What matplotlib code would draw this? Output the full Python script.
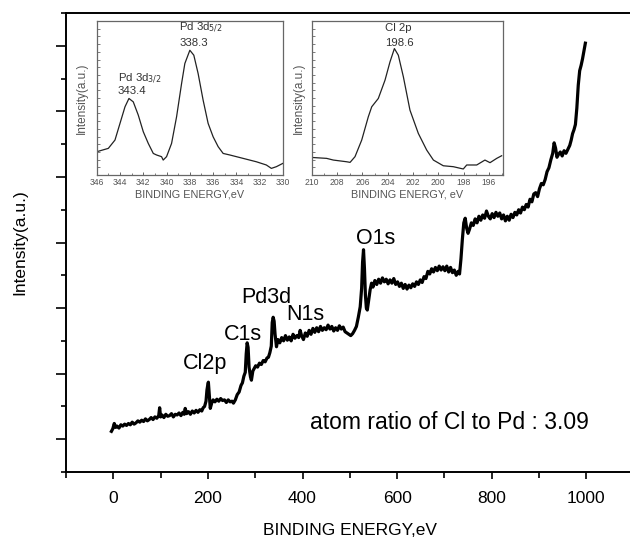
# XPS survey spectrum with Pd 3d and Cl 2p insets
import matplotlib
matplotlib.use("Agg")
import matplotlib.pyplot as plt
from matplotlib.ticker import MultipleLocator

plt.rcParams["font.family"] = ["Liberation Sans", "DejaVu Sans"]

# survey spectrum (binding energy, eV / intensity, a.u.)
survey_be = [
    -4, -1, 2, 5, 8, 12, 16, 20, 24, 28, 32, 36, 40, 44, 48, 52, 56, 60, 64, 68,
    72, 76, 80, 84, 88, 92, 96, 98, 100, 103, 107, 111, 115, 119, 123, 127, 131,
    135, 139, 143, 147, 150, 152, 155, 159, 163, 167, 171, 175, 179, 183, 187, 190,
    193, 196, 198, 200, 201, 203, 205, 208, 211, 215, 219, 223, 227, 231, 235,
    239, 243, 247, 251, 254,
    258, 262, 266, 270, 273, 276, 279, 281, 283, 285, 287, 290, 292, 295, 298,
    301, 305, 309, 313, 317, 321, 325, 328, 331,
    334, 336, 338, 340, 342, 345, 348, 352, 356, 360, 364, 368, 372, 376, 380,
    384, 388, 392, 395, 398, 402, 406, 410, 414, 418, 422, 426, 430, 434, 438,
    442, 446, 450, 454, 458, 462, 466, 470, 474, 478, 482, 486, 490, 494, 498,
    502, 506, 510, 514, 518,
    522, 525, 527, 529, 531, 533, 535, 537, 540, 543, 546, 549, 553, 557, 561,
    565, 569, 573, 577, 581, 585, 589, 593, 597, 601, 605, 609, 613, 617, 621,
    625, 629, 633, 637, 641, 645, 649, 653, 657, 661, 665, 669, 673, 677, 681,
    685, 689, 693, 697, 701, 705, 709, 713, 717, 721, 725, 729, 732,
    735, 738, 741, 744, 747, 750, 753, 757, 761, 765, 769, 773, 777, 781, 785,
    789, 793, 797, 801, 805, 809, 813, 817, 821, 825, 829, 833, 837, 841, 845,
    849, 853, 857, 861, 865, 869, 873, 877, 881, 885, 889, 893, 897, 901, 905,
    909, 913, 917, 921, 925, 929, 932, 935, 938, 941, 945, 949, 953, 957, 961,
    965, 968, 971, 974, 977, 980, 983, 986, 989, 992, 995, 998,
]
survey_int = [
    1.12, 1.16, 1.24, 1.18, 1.20, 1.17, 1.22, 1.20, 1.23, 1.21, 1.24, 1.22, 1.26,
    1.23, 1.25, 1.28, 1.26, 1.29, 1.27, 1.31, 1.28, 1.30, 1.33, 1.30, 1.34, 1.32,
    1.36, 1.48, 1.34, 1.37, 1.33, 1.38, 1.35, 1.36, 1.39, 1.34, 1.38, 1.37, 1.40,
    1.36, 1.41, 1.38, 1.47, 1.39, 1.42, 1.38, 1.43, 1.40, 1.44, 1.41, 1.45, 1.43,
    1.48,
    1.50, 1.58, 1.75, 1.84, 1.87, 1.66, 1.47, 1.55, 1.60, 1.57, 1.61, 1.58, 1.62,
    1.59, 1.60, 1.56, 1.60, 1.57, 1.58, 1.55,
    1.60, 1.68, 1.72, 1.82, 1.86, 1.96, 2.02, 2.30, 2.47, 2.40, 2.10, 1.95, 1.90,
    2.04, 2.08, 2.12, 2.10, 2.16, 2.14, 2.20, 2.18, 2.24, 2.25, 2.32,
    2.42, 2.78, 2.86, 2.80, 2.60, 2.41, 2.52, 2.47, 2.55, 2.50, 2.58, 2.51, 2.56,
    2.50, 2.60, 2.54, 2.58, 2.55, 2.66, 2.58, 2.52, 2.62, 2.57, 2.66, 2.60, 2.69,
    2.63, 2.70, 2.64, 2.72, 2.66, 2.70, 2.67, 2.74, 2.68, 2.72, 2.65, 2.70, 2.66,
    2.73, 2.68, 2.71, 2.64, 2.62, 2.60, 2.58, 2.61, 2.66, 2.72, 2.86,
    3.02, 3.30, 3.70, 3.89, 3.60, 3.20, 3.00, 2.97, 3.12, 3.28, 3.38, 3.32, 3.42,
    3.36, 3.44, 3.38, 3.46, 3.40, 3.44, 3.37, 3.43, 3.38, 3.45, 3.36, 3.40, 3.33,
    3.38, 3.30, 3.36, 3.29, 3.35, 3.31, 3.37, 3.33, 3.40, 3.36, 3.43, 3.39, 3.48,
    3.45, 3.56, 3.52, 3.60, 3.55, 3.62, 3.57, 3.64, 3.58, 3.63, 3.57, 3.64, 3.55,
    3.62, 3.54, 3.58, 3.50, 3.56, 3.52,
    3.75, 4.05, 4.30, 4.37, 4.22, 4.14, 4.20, 4.30, 4.26, 4.36, 4.30, 4.40, 4.34,
    4.42, 4.37, 4.48, 4.40, 4.36, 4.44, 4.38, 4.46, 4.40, 4.45, 4.36, 4.42, 4.33,
    4.40, 4.34, 4.43, 4.38, 4.46, 4.42, 4.50, 4.45, 4.54, 4.50, 4.58, 4.54, 4.66,
    4.62, 4.74, 4.76, 4.70, 4.82, 4.90, 4.88, 4.96, 5.08, 5.14, 5.26, 5.36, 5.52,
    5.44, 5.30, 5.34, 5.38, 5.32, 5.40, 5.36, 5.42, 5.48, 5.56, 5.66, 5.72, 5.80,
    6.05, 6.40, 6.62, 6.70, 6.80, 6.92, 7.04,
]

# peak labels on the survey
peak_names = ["Cl2p", "C1s", "Pd3d", "N1s", "O1s"]
peak_be = [193, 274, 323, 407, 555]
peak_y = [2.15, 2.59, 3.16, 2.90, 4.06]
ratio_text = "atom ratio of Cl to Pd : 3.09"

# Pd 3d high resolution
pd_be = [346.0, 345.0, 344.43, 344.0, 343.57, 343.23, 342.86, 342.43, 342.0,
         341.57, 341.14, 340.86, 340.43, 340.29, 340.0, 339.57, 339.14, 338.71,
         338.43, 338.0, 337.66, 337.29, 336.86, 336.43, 336.0, 335.57, 335.14,
         334.57, 333.43, 332.29, 331.43, 331.0, 330.57, 330.0]
pd_int = [0.151, 0.173, 0.227, 0.335, 0.443, 0.497, 0.475, 0.389, 0.281, 0.205,
          0.140, 0.130, 0.119, 0.097, 0.119, 0.205, 0.378, 0.594, 0.724, 0.810,
          0.778, 0.659, 0.486, 0.335, 0.248, 0.184, 0.140, 0.130, 0.108, 0.086,
          0.065, 0.043, 0.054, 0.076]

# Cl 2p high resolution
cl_be = [210.0, 208.82, 208.29, 207.24, 206.97, 206.58, 206.05, 205.53, 205.26,
         204.74, 204.21, 203.82, 203.47, 203.16, 202.76, 202.24, 201.58, 200.92,
         200.39, 199.61, 198.82, 198.03, 197.76, 196.97, 196.32, 195.92, 195.39,
         195.0]
cl_int = [0.114, 0.108, 0.097, 0.086, 0.082, 0.119, 0.227, 0.378, 0.443, 0.497,
          0.616, 0.734, 0.821, 0.778, 0.637, 0.421, 0.270, 0.162, 0.097, 0.060,
          0.054, 0.039, 0.065, 0.065, 0.097, 0.080, 0.108, 0.125]

fig = plt.figure(figsize=(6.3, 5.44), dpi=100)
ax = fig.add_axes([66 / 630, 72 / 544, 567.6 / 630, 459 / 544])
ax.plot(survey_be, survey_int, color="black", lw=2.3)
ax.set_xlim(-100, 1100)
ax.set_ylim(0.5, 7.5)
ax.xaxis.set_major_locator(MultipleLocator(200))
ax.xaxis.set_minor_locator(MultipleLocator(100))
ax.yaxis.set_major_locator(MultipleLocator(1))
ax.yaxis.set_minor_locator(MultipleLocator(0.5))
ax.set_yticklabels([])
ax.spines["right"].set_visible(False)
for s in ["left", "bottom", "top"]:
    ax.spines[s].set_linewidth(1.4)
ax.tick_params(axis="x", which="major", direction="out", length=5, width=1.2,
               labelsize=12.5, pad=9)
ax.tick_params(axis="x", which="minor", direction="out", length=4, width=1.2)
ax.tick_params(axis="y", which="major", direction="out", length=7, width=1.2)
ax.tick_params(axis="y", which="minor", direction="out", length=3.5, width=1.2)
ax.set_xlabel("BINDING ENERGY,eV", fontsize=12.5, labelpad=12)
ax.set_ylabel("Intensity(a.u.)", fontsize=12.5)
ax.yaxis.set_label_coords(-0.068, 0.5)

for name, x, y in zip(peak_names, peak_be, peak_y):
    ax.text(x, y, name, fontsize=15.5, ha="center", va="center")
ax.text(416, 0.5 + (472 - 423) / 65.57, ratio_text,
        fontsize=16.5, ha="left", va="center")

grey = "#555555"


def style_inset(a):
    for s in a.spines.values():
        s.set_color("#666666")
        s.set_linewidth(0.9)
    a.tick_params(axis="x", which="major", direction="in", length=2.5,
                  width=0.7, colors="#666666", labelsize=6.2, pad=2,
                  labelcolor=grey)
    a.tick_params(axis="x", which="minor", direction="in", length=1.5,
                  width=0.6, colors="#666666")
    a.tick_params(axis="y", which="both", direction="in", length=2,
                  width=0.6, colors="#666666", left=True)
    a.yaxis.set_major_locator(MultipleLocator(0.1))
    a.yaxis.set_minor_locator(MultipleLocator(0.05))
    a.set_yticklabels([])
    a.set_ylim(0, 1)
    a.set_ylabel("Intensity(a.u.)", fontsize=8.5, color=grey, labelpad=3)


ins1 = fig.add_axes([96.7 / 630, 369 / 544, 186.3 / 630, 154 / 544])
ins1.plot(pd_be, pd_int, color="#222222", lw=0.9)
ins1.set_xlim(346, 330)
ins1.xaxis.set_major_locator(MultipleLocator(2))
ins1.xaxis.set_minor_locator(MultipleLocator(1))
style_inset(ins1)
ins1.set_xlabel("BINDING ENERGY,eV", fontsize=7.8, color=grey, labelpad=2)
ins1.text(344.2, 0.625, "Pd 3d$_{3/2}$", fontsize=8.2, color="#333333",
          ha="left", va="center")
ins1.text(344.2, 0.545, "343.4", fontsize=8.2, color="#333333", ha="left",
          va="center")
ins1.text(338.9, 0.955, "Pd 3d$_{5/2}$", fontsize=8.2, color="#333333",
          ha="left", va="center")
ins1.text(338.9, 0.86, "338.3", fontsize=8.2, color="#333333", ha="left",
          va="center")

ins2 = fig.add_axes([311.7 / 630, 369 / 544, 191.6 / 630, 154 / 544])
ins2.plot(cl_be, cl_int, color="#222222", lw=0.9)
ins2.set_xlim(210, 194.87)
ins2.xaxis.set_major_locator(MultipleLocator(2))
ins2.xaxis.set_minor_locator(MultipleLocator(1))
style_inset(ins2)
ins2.set_ylabel("")
ins2.set_xlabel("BINDING ENERGY, eV", fontsize=7.8, color=grey, labelpad=2)
ins2.text(203.2, 0.955, "Cl 2p", fontsize=8.2, color="#333333", ha="center",
          va="center")
ins2.text(203.1, 0.86, "198.6", fontsize=8.2, color="#333333", ha="center",
          va="center")
# y label of the Cl inset sits just left of its frame
fig.text(299 / 630, 1 - 98 / 544, "Intensity(a.u.)", fontsize=8.5, color=grey,
         rotation=90, ha="center", va="center")

fig.savefig("out.png", dpi=100)
